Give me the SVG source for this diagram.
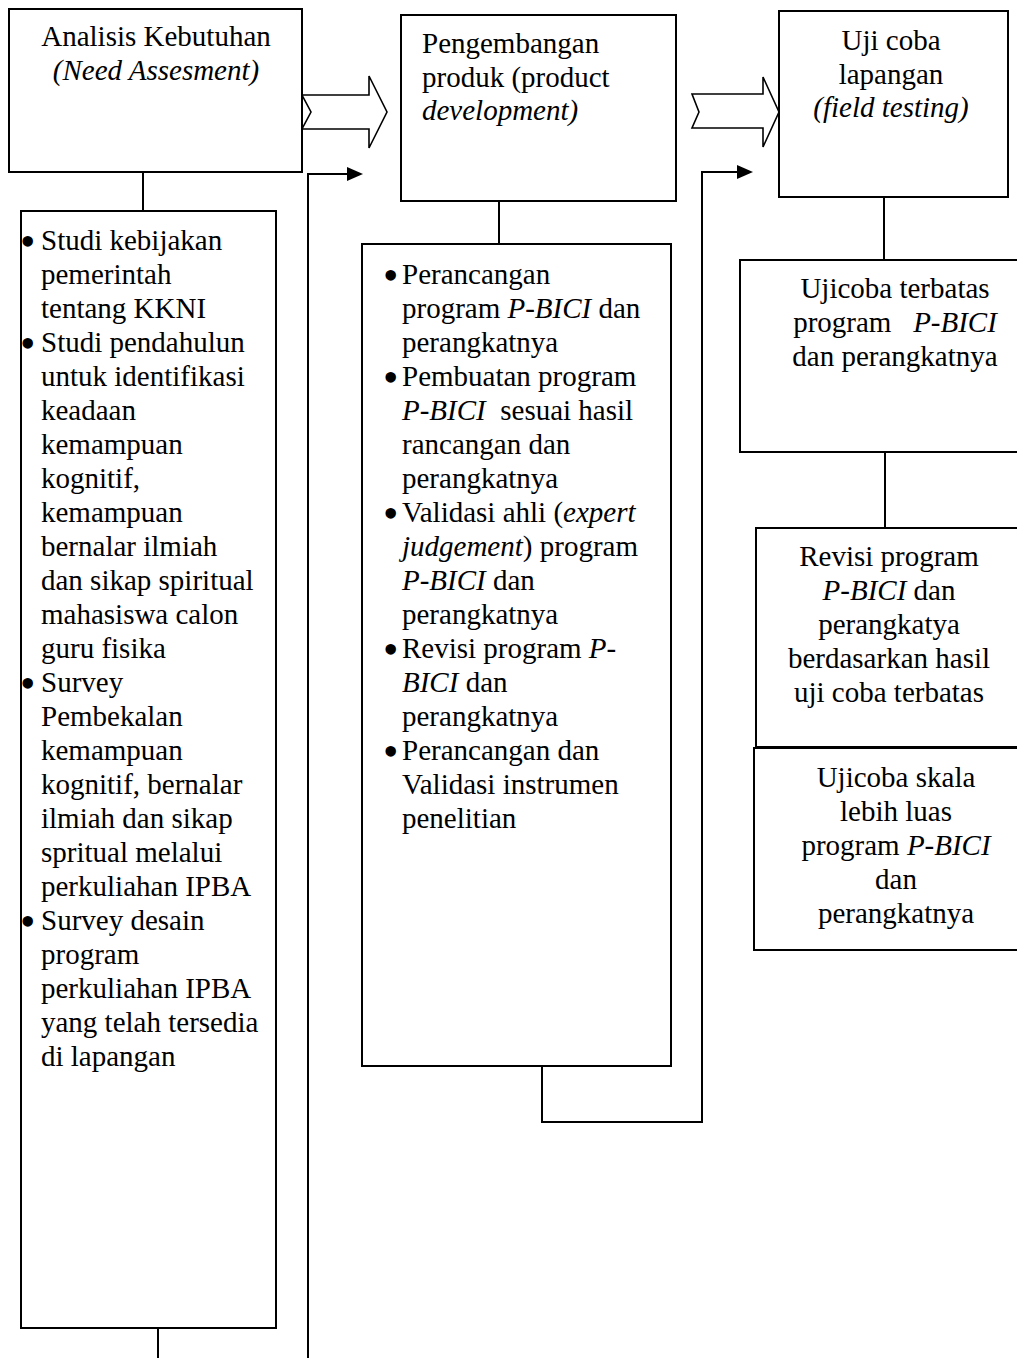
<svg xmlns="http://www.w3.org/2000/svg" width="1017" height="1358" viewBox="0 0 1017 1358">
<style>
text{font-family:"Liberation Serif","Times New Roman",serif;font-size:29px;fill:#000}
text.b{font-size:44px}
.c{text-anchor:middle}
.i{font-style:italic}
.box{fill:#fff;stroke:#000;stroke-width:2}
.ln{fill:none;stroke:#000;stroke-width:2}
.blk{fill:#fff;stroke:#000;stroke-width:1.6;stroke-linejoin:miter}
</style>
<defs>
<marker id="ah" markerUnits="userSpaceOnUse" markerWidth="16" markerHeight="14" refX="0" refY="7" orient="auto">
<path d="M0,0 L16,7 L0,14 Z" fill="#000"/>
</marker>
</defs>
<rect width="1017" height="1358" fill="#fff"/>

<g id="connectors">
<polygon class="blk" points="302,95 369,95 369,76 387,112 369,148 369,129 302,129 311,112"/>
<polygon class="blk" points="692,94 763,94 763,77 779,112 763,147 763,128 692,128 699,112"/>
<path class="ln" d="M143,172 V211"/>
<path class="ln" d="M499,201 V244"/>
<path class="ln" d="M884,197 V260"/>
<path class="ln" d="M885,452 V528"/>
<path class="ln" d="M158,1328 V1358"/>
<path class="ln" d="M308,1358 V174 H347" marker-end="url(#ah)"/>
<path class="ln" d="M542,1066 V1122 H702 V172 H737" marker-end="url(#ah)"/>
</g>

<g id="need-assessment">
<rect class="box" x="9" y="9" width="293" height="163"/>
<text class="c" x="156" y="46">Analisis Kebutuhan</text>
<text class="c i" x="156" y="80">(Need Assesment)</text>
</g>

<g id="product-development">
<rect class="box" x="401" y="15" width="275" height="186"/>
<text x="422" y="53">Pengembangan</text>
<text x="422" y="87">produk (product</text>
<text class="i" x="422" y="120">development)</text>
</g>

<g id="field-testing">
<rect class="box" x="779" y="11" width="229" height="186"/>
<text class="c" x="891" y="50">Uji coba</text>
<text class="c" x="891" y="84">lapangan</text>
<text class="c i" x="891" y="117">(field testing)</text>
</g>

<g id="need-details">
<rect class="box" x="21" y="211" width="255" height="1117"/>
<text class="b" x="20" y="256">•</text>
<text x="41" y="250">Studi kebijakan</text>
<text x="41" y="284">pemerintah</text>
<text x="41" y="318">tentang KKNI</text>
<text class="b" x="20" y="358">•</text>
<text x="41" y="352">Studi pendahulun</text>
<text x="41" y="386">untuk identifikasi</text>
<text x="41" y="420">keadaan</text>
<text x="41" y="454">kemampuan</text>
<text x="41" y="488">kognitif,</text>
<text x="41" y="522">kemampuan</text>
<text x="41" y="556">bernalar ilmiah</text>
<text x="41" y="590">dan sikap spiritual</text>
<text x="41" y="624">mahasiswa calon</text>
<text x="41" y="658">guru fisika</text>
<text class="b" x="20" y="698">•</text>
<text x="41" y="692">Survey</text>
<text x="41" y="726">Pembekalan</text>
<text x="41" y="760">kemampuan</text>
<text x="41" y="794">kognitif, bernalar</text>
<text x="41" y="828">ilmiah dan sikap</text>
<text x="41" y="862">spritual melalui</text>
<text x="41" y="896">perkuliahan IPBA</text>
<text class="b" x="20" y="936">•</text>
<text x="41" y="930">Survey desain</text>
<text x="41" y="964">program</text>
<text x="41" y="998">perkuliahan IPBA</text>
<text x="41" y="1032">yang telah tersedia</text>
<text x="41" y="1066">di lapangan</text>
</g>

<g id="development-details">
<rect class="box" x="362" y="244" width="309" height="822"/>
<text class="b" x="383" y="290">•</text>
<text x="402" y="284">Perancangan</text>
<text x="402" y="318">program <tspan class="i">P-BICI</tspan> dan</text>
<text x="402" y="352">perangkatnya</text>
<text class="b" x="383" y="392">•</text>
<text x="402" y="386">Pembuatan program</text>
<text x="402" y="420" xml:space="preserve"><tspan class="i">P-BICI</tspan>  sesuai hasil</text>
<text x="402" y="454">rancangan dan</text>
<text x="402" y="488">perangkatnya</text>
<text class="b" x="383" y="528">•</text>
<text x="402" y="522">Validasi ahli (<tspan class="i">expert</tspan></text>
<text x="402" y="556"><tspan class="i">judgement</tspan>) program</text>
<text x="402" y="590"><tspan class="i">P-BICI</tspan> dan</text>
<text x="402" y="624">perangkatnya</text>
<text class="b" x="383" y="664">•</text>
<text x="402" y="658">Revisi program <tspan class="i">P-</tspan></text>
<text x="402" y="692"><tspan class="i">BICI</tspan> dan</text>
<text x="402" y="726">perangkatnya</text>
<text class="b" x="383" y="766">•</text>
<text x="402" y="760">Perancangan dan</text>
<text x="402" y="794">Validasi instrumen</text>
<text x="402" y="828">penelitian</text>
</g>

<g id="limited-trial">
<rect class="box" x="740" y="260" width="300" height="192"/>
<text class="c" x="895" y="298">Ujicoba terbatas</text>
<text class="c" x="895" y="332" xml:space="preserve">program   <tspan class="i">P-BICI</tspan></text>
<text class="c" x="895" y="366">dan perangkatnya</text>
</g>

<g id="revision">
<rect class="box" x="756" y="528" width="280" height="219"/>
<text class="c" x="889" y="566">Revisi program</text>
<text class="c" x="889" y="600"><tspan class="i">P-BICI</tspan> dan</text>
<text class="c" x="889" y="634">perangkatya</text>
<text class="c" x="889" y="668">berdasarkan hasil</text>
<text class="c" x="889" y="702">uji coba terbatas</text>
</g>

<g id="wider-trial">
<rect class="box" x="754" y="748" width="290" height="202"/>
<text class="c" x="896" y="787">Ujicoba skala</text>
<text class="c" x="896" y="821">lebih luas</text>
<text class="c" x="896" y="855">program <tspan class="i">P-BICI</tspan></text>
<text class="c" x="896" y="889">dan</text>
<text class="c" x="896" y="923">perangkatnya</text>
</g>
</svg>
